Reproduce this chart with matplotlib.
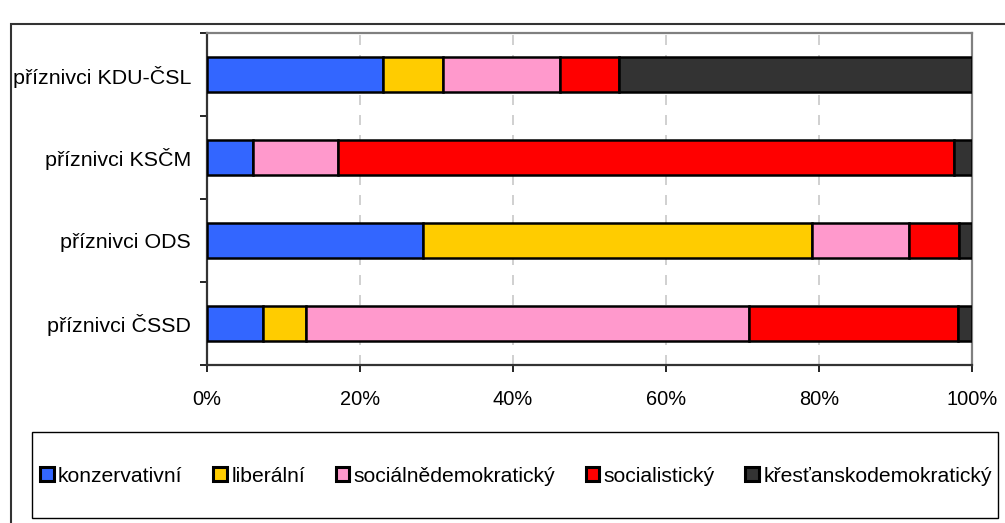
import numpy as np
import matplotlib
matplotlib.use("Agg")
from matplotlib import pyplot as plt
from matplotlib.patches import Rectangle
from matplotlib.ticker import PercentFormatter

plt.rcParams['font.family'] = ['Liberation Sans', 'DejaVu Sans']

# bottom to top, as drawn
groups = ['příznivci ČSSD', 'příznivci ODS', 'příznivci KSČM', 'příznivci KDU-ČSL']
series = ['konzervativní', 'liberální', 'sociálnědemokratický',
          'socialistický', 'křesťanskodemokratický']
konzervativni = [7.3, 28.3, 6.0, 23.0]
liberalni = [5.6, 50.8, 0.0, 7.8]
socialnedemokraticky = [58.0, 12.7, 11.1, 15.3]
socialisticky = [27.3, 6.5, 80.5, 7.8]
krestanskodemokraticky = [1.8, 1.7, 2.4, 46.1]
colors = ['#3366FF', '#FFCC00', '#FF99CC', '#FF0000', '#333333']

data = np.array([konzervativni, liberalni, socialnedemokraticky,
                 socialisticky, krestanskodemokraticky])
data = data / data.sum(axis=0) * 100

W, H = 1005, 523
fig = plt.figure(figsize=(W / 100, H / 100), dpi=100)
ax = fig.add_axes([207 / W, 1 - 365 / H, (972 - 207) / W, (365 - 33) / H])

y = np.arange(len(groups))
left = np.zeros(len(groups))
for vals, name, col in zip(data, series, colors):
    ax.barh(y, vals, left=left, height=0.41, color=col, edgecolor='black',
            linewidth=1.8, label=name, zorder=3)
    left += vals

ax.set_xlim(0, 100)
ax.set_ylim(-0.5, len(groups) - 0.5)
ax.set_xticks([0, 20, 40, 60, 80, 100])
ax.xaxis.set_major_formatter(PercentFormatter(decimals=0))
ax.set_yticks(y)
ax.set_yticklabels(groups)
ax.set_yticks(np.arange(-0.5, len(groups)), minor=True)
ax.tick_params(axis='y', which='major', length=0, pad=11.5, labelsize=15.4)
ax.tick_params(axis='y', which='minor', length=5, width=1.2, direction='out')
ax.tick_params(axis='x', length=5, width=1.2, pad=13, labelsize=14.4)

for xv in [20, 40, 60, 80]:
    ax.axvline(xv, color='#c8c8c8', linewidth=1.2, linestyle=(0, (6, 6)), zorder=1)

ax.spines['left'].set_color('#333333')
ax.spines['bottom'].set_color('#333333')
ax.spines['top'].set_color('#808080')
ax.spines['right'].set_color('#808080')
for s in ax.spines.values():
    s.set_linewidth(1.6)

# outer chart frame (cut off at right and bottom)
fig.patches.append(Rectangle((11 / W, -0.1), 1.2, 1 - 24 / H + 0.1,
                             transform=fig.transFigure, fill=False,
                             edgecolor='#333333', linewidth=1.5))
# legend box
fig.patches.append(Rectangle((32 / W, 1 - 518 / H), (998 - 32) / W, (518 - 432) / H,
                             transform=fig.transFigure, fill=False,
                             edgecolor='black', linewidth=1.0))
handles, labels = ax.get_legend_handles_labels()
leg = fig.legend(handles, labels, loc='center', ncol=5,
                 bbox_to_anchor=((45 + 987) / 2 / W, 1 - 476 / H),
                 frameon=False, fontsize=15.2, handlelength=0.65, handleheight=0.65,
                 handletextpad=0.2, columnspacing=1.45)
for h in leg.legend_handles:
    h.set_linewidth(2.2)

fig.savefig('out.png', dpi=100)
